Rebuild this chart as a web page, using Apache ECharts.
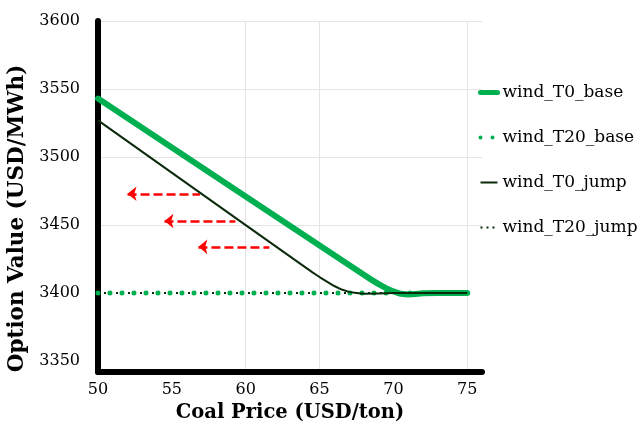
<!DOCTYPE html>
<html><head><meta charset="utf-8">
<script src="https://cdn.jsdelivr.net/npm/echarts@6/dist/echarts.min.js"></script>
<style>html,body{margin:0;padding:0;background:#fff}#c{width:638px;height:425px}</style>
</head><body><div id="c"></div>
<script>
// ---- data ----
const seriesNames = ['wind_T0_base', 'wind_T20_base', 'wind_T0_jump', 'wind_T20_jump'];
const t0BaseX = [50, 60, 67, 68, 68.5, 69, 69.5, 70, 70.5, 71, 71.5, 72, 73, 75];
const t0BaseY = [3543, 3471, 3420.6, 3413.4, 3409.9, 3406.6, 3403.6, 3401.2, 3399.5, 3398.9, 3399.4, 3399.9, 3400, 3400];
const t0JumpX = [50, 60, 64.5, 65, 65.5, 66, 66.5, 67, 67.5, 68, 69, 70, 75];
const t0JumpY = [3527, 3450, 3415.4, 3411.8, 3408.4, 3405.2, 3402.6, 3400.9, 3400.0, 3399.6, 3399.7, 3400, 3400];
const t20BaseX = [50, 55, 60, 65, 70, 75];
const t20BaseY = [3400, 3400, 3400, 3400, 3400, 3400];
const t20JumpX = [50, 55, 60, 65, 70, 75];
const t20JumpY = [3400, 3400, 3400, 3400, 3400, 3400];
// red shift arrows (head x, tail x, y)
const arrowHeadX = [52.0, 54.5, 56.8];
const arrowTailX = [56.9, 59.3, 61.6];
const arrowY = [3473, 3453, 3434];
// axis ticks
const xTicks = [50, 55, 60, 65, 70, 75];
const yTicks = [3350, 3400, 3450, 3500, 3550, 3600];
const xGridAt = [60, 65, 75];
const yGridAt = [3450, 3500, 3550, 3600];

const zip = (xs, ys) => xs.map((x, i) => [x, ys[i]]);
const GREEN = '#00b050', DARK = '#0b2a0b', GRID = '#e4e4e4';
const FONT = 'DejaVu Serif';

const xMin = 50, xMax = 76, xInt = 5;
const yMin = 3342, yMax = 3600, yInt = 2;
const xColors = [];
for (let v = xMin; v <= xMax; v += xInt) xColors.push(xGridAt.includes(v) ? GRID : 'rgba(0,0,0,0)');
if ((xMax - xMin) % xInt) xColors.push('rgba(0,0,0,0)');
const yColors = [];
for (let v = yMin; v <= yMax; v += yInt) yColors.push(yGridAt.includes(v) ? GRID : 'rgba(0,0,0,0)');

const arrowData = arrowY.map((y, i) => [{coord: [arrowHeadX[i], y]}, {coord: [arrowTailX[i], y]}]);

const legendLine = {
  wind_T0_base: {width: 5, cap: 'round', type: 'solid'},
  wind_T20_base: {width: 4, cap: 'round', type: [0, 12]},
  wind_T0_jump: {width: 2, type: 'solid'},
  wind_T20_jump: {width: 2, type: [2, 4]}
};

const chart = echarts.init(document.getElementById('c'), null, {renderer: 'canvas'});
chart.setOption({
  animation: false,
  backgroundColor: '#fff',
  grid: {left: 98, right: 156, top: 21, bottom: 53, containLabel: false, outerBoundsMode: 'none'},
  legend: {
    orient: 'vertical', left: 478, top: 84, padding: 0, itemGap: 28, itemWidth: 17, itemHeight: 14,
    data: seriesNames.map(n => ({name: n, lineStyle: legendLine[n]})),
    itemStyle: {opacity: 0},
    textStyle: {fontFamily: FONT, fontSize: 17, color: '#000'}
  },
  xAxis: {
    type: 'value', min: xMin, max: xMax, interval: xInt,
    name: 'Coal Price (USD/ton)', nameLocation: 'middle', nameGap: 31,
    nameTextStyle: {fontFamily: FONT, fontSize: 19.5, fontWeight: 'bold', color: '#000'},
    axisLine: {show: true, lineStyle: {color: '#000', width: 6}},
    axisTick: {show: false},
    axisLabel: {fontFamily: FONT, fontSize: 16, color: '#000', margin: 10, showMaxLabel: false,
      formatter: v => xTicks.includes(v) ? String(v) : ''},
    splitLine: {show: true, lineStyle: {color: xColors, width: 1}}
  },
  yAxis: {
    type: 'value', min: yMin, max: yMax, interval: yInt,
    name: 'Option Value (USD/MWh)', nameLocation: 'middle', nameGap: 67, nameRotate: 90,
    nameTextStyle: {fontFamily: FONT, fontSize: 21.5, fontWeight: 'bold', color: '#000', padding: [0, 44, 0, 0]},
    axisLine: {show: true, lineStyle: {color: '#000', width: 6}},
    axisTick: {show: false},
    axisLabel: {fontFamily: FONT, fontSize: 16, color: '#000', margin: 18, showMinLabel: false,
      formatter: v => yTicks.includes(v) ? String(v) : ''},
    splitLine: {show: true, lineStyle: {color: yColors, width: 1}}
  },
  series: [
    {name: 'wind_T0_base', type: 'line', data: zip(t0BaseX, t0BaseY), showSymbol: false, symbol: 'none',
      smooth: false, z: 4, lineStyle: {color: GREEN, width: 6, cap: 'round', join: 'round'}, itemStyle: {color: GREEN},
      markLine: {silent: true, symbol: ['arrow', 'none'], symbolSize: [11, 9], label: {show: false},
        lineStyle: {color: '#ff0000', width: 2.5, type: [9, 4]}, data: arrowData}},
    {name: 'wind_T20_base', type: 'line', data: zip(t20BaseX, t20BaseY), showSymbol: false, symbol: 'none',
      z: 3, lineStyle: {color: GREEN, width: 5, type: [0, 12], cap: 'round'}, itemStyle: {color: GREEN}},
    {name: 'wind_T0_jump', type: 'line', data: zip(t0JumpX, t0JumpY), showSymbol: false, symbol: 'none',
      smooth: false, z: 5, lineStyle: {color: DARK, width: 2, join: 'round'}, itemStyle: {color: DARK}},
    {name: 'wind_T20_jump', type: 'line', data: zip(t20JumpX, t20JumpY), showSymbol: false, symbol: 'none',
      z: 2, lineStyle: {color: DARK, width: 2, type: [2, 4]}, itemStyle: {color: DARK}}
  ]
});
</script>
</body></html>
